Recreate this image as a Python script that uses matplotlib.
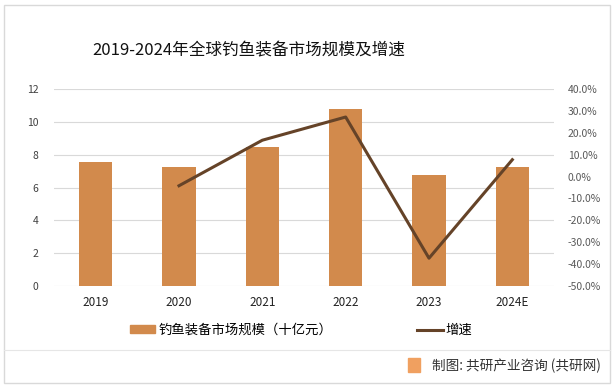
import matplotlib.pyplot as plt
import matplotlib.patches as mpatches
from matplotlib.lines import Line2D

plt.rcParams['font.family'] = ['Noto Sans CJK SC', 'DejaVu Sans']

years = ['2019', '2020', '2021', '2022', '2023', '2024E']
market_size = [7.56, 7.26, 8.48, 10.79, 6.77, 7.26]
growth = [None, -4.2, 16.6, 27.2, -37.3, 7.7]

bar_color = '#D28A4C'
line_color = '#654328'
grid_color = '#D9D9D9'
text_color = '#595959'

fig = plt.figure(figsize=(6.14, 3.88), dpi=100)
ax = fig.add_axes([54 / 614, 1 - 286 / 388, (554 - 54) / 614, (286 - 89) / 388])

x = list(range(len(years)))
ax.bar(x, market_size, width=0.4, color=bar_color, zorder=2)
ax.set_ylim(0, 12)
ax.set_yticks(range(0, 13, 2))
ax.set_xlim(-0.5, len(years) - 0.5)
ax.set_xticks(x)
ax.set_xticklabels(years)
ax.grid(axis='y', color=grid_color, linewidth=0.8, zorder=0)
for s in ax.spines.values():
    s.set_visible(False)
ax.tick_params(length=0, labelsize=7.5, colors='#404040')
ax.tick_params(axis='y', pad=11)
ax.tick_params(axis='x', pad=7, labelsize=8.5, colors='#222222')

ax2 = ax.twinx()
gx = [i for i, g in zip(x, growth) if g is not None]
gy = [g for g in growth if g is not None]
ax2.plot(gx, gy, color=line_color, linewidth=2.2, zorder=3)
ax2.set_ylim(-50, 40)
ax2.set_yticks(range(-50, 41, 10))
ax2.set_yticklabels([f'{v:.1f}%' for v in range(-50, 41, 10)])
for s in ax2.spines.values():
    s.set_visible(False)
ax2.tick_params(length=0, labelsize=7.5, colors=text_color, pad=10)

fig.text(249 / 614, 1 - 51 / 388, '2019-2024年全球钓鱼装备市场规模及增速',
         ha='center', va='center', fontsize=12, color='#111111')

handles = [mpatches.Patch(color=bar_color, label='钓鱼装备市场规模（十亿元）'),
           Line2D([0], [0], color=line_color, linewidth=2.2, label='增速')]
fig.legend(handles=handles, loc='center', bbox_to_anchor=(301 / 614, 1 - 330 / 388),
           ncol=2, frameon=False, fontsize=9.6, columnspacing=6.4, handlelength=1.9,
           handleheight=0.55, handletextpad=0.2)

# frame and separator
fig.add_artist(mpatches.Rectangle((4 / 614, 5 / 388), 606 / 614, 378 / 388,
                                  transform=fig.transFigure, fill=False,
                                  edgecolor='#D9D9D9', linewidth=1))
fig.add_artist(Line2D([4 / 614, 610 / 614], [1 - 350 / 388, 1 - 350 / 388],
                      transform=fig.transFigure, color='#E6E6E6', linewidth=0.8))

fig.add_artist(mpatches.Rectangle((408 / 614, 1 - 372 / 388), 12 / 614, 14 / 388,
                                  transform=fig.transFigure, color='#F0A060'))
fig.text(601 / 614, 1 - 366 / 388, '制图: 共研产业咨询 (共研网)', ha='right', va='center',
         fontsize=9.8, color='#333333')

fig.savefig('out.png', dpi=100)
